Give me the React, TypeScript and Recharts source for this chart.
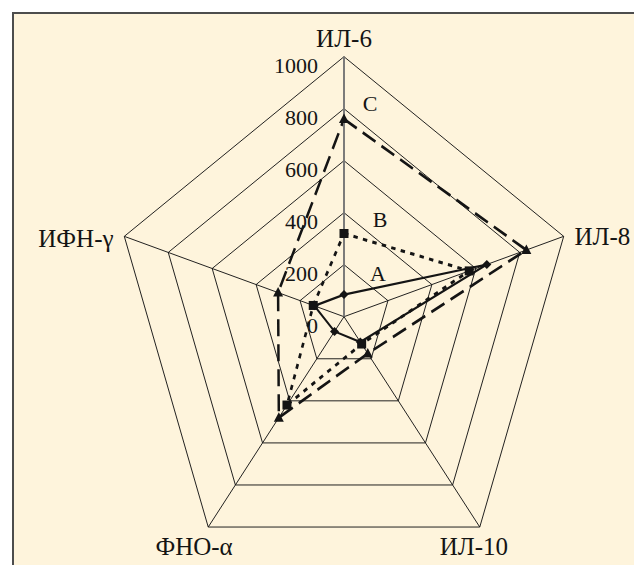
import React from "react";
import {
  RadarChart,
  Radar,
  PolarGrid,
  PolarAngleAxis,
  PolarRadiusAxis,
} from "recharts";

const axes = ["ИЛ-6", "ИЛ-8", "ИЛ-10", "ФНО-α", "ИФН-γ"];
const seriesA = [85, 650, 120, 70, 135];
const seriesB = [320, 570, 130, 420, 140];
const seriesC = [760, 830, 175, 480, 300];
const radiusTicks = [0, 200, 400, 600, 800, 1000];
const seriesNames = ["A", "B", "C"];

const data = axes.map((axis, i) => ({
  axis,
  A: seriesA[i],
  B: seriesB[i],
  C: seriesC[i],
}));

// the plot is an ellipse-ish pentagon: narrower than tall
const SX = 231 / 260;
const CX = 420;
const CY = 316.7;
const R = 260;
const FONT = "'Liberation Serif', 'Times New Roman', serif";
const INK = "#141414";

const AngleTick = (props: any) => {
  const { x, y, payload } = props;
  const rad = (payload.coordinate * Math.PI) / 180;
  const c = Math.cos(rad);
  const s = Math.sin(rad);
  let anchor = "middle";
  let dx = 0;
  let dy = 0;
  if (s > 0.9) {
    dy = -10;
  } else if (s < -0.5) {
    dx = -10;
    dy = 13;
  } else if (c > 0) {
    anchor = "start";
    dx = 4;
    dy = 3;
  } else {
    anchor = "end";
    dx = -4;
    dy = 5;
  }
  return (
    <g transform={`translate(${x},${y}) scale(${1 / SX},1)`}>
      <text
        x={dx}
        y={dy}
        textAnchor={anchor}
        dominantBaseline="central"
        fontFamily={FONT}
        fontSize={25}
        fill={INK}
      >
        {payload.value}
      </text>
    </g>
  );
};

const RadiusTick = (props: any) => {
  const { x, y, payload } = props;
  return (
    <g transform={`translate(${x},${y}) scale(${1 / SX},1)`}>
      <text
        x={-26}
        y={9}
        textAnchor="end"
        dominantBaseline="central"
        fontFamily={FONT}
        fontSize={22}
        fill={INK}
      >
        {payload.value}
      </text>
    </g>
  );
};

const diamond = (p: any) => {
  const w = 4.5 / SX;
  return (
    <path
      key={`a-${p.index}`}
      d={`M${p.cx},${p.cy - 4.5} L${p.cx + w},${p.cy} L${p.cx},${p.cy + 4.5} L${p.cx - w},${p.cy} Z`}
      fill={INK}
    />
  );
};

const square = (p: any) => {
  const w = 4.5 / SX;
  return (
    <rect
      key={`b-${p.index}`}
      x={p.cx - w}
      y={p.cy - 4.5}
      width={w * 2}
      height={9}
      fill={INK}
    />
  );
};

const triangle = (p: any) => {
  const w = 5 / SX;
  return (
    <path
      key={`c-${p.index}`}
      d={`M${p.cx},${p.cy - 5.5} L${p.cx + w},${p.cy + 4} L${p.cx - w},${p.cy + 4} Z`}
      fill={INK}
    />
  );
};

const namePos = [
  { left: 378, top: 274 },
  { left: 380, top: 220 },
  { left: 370, top: 104 },
];

export default function App() {
  return (
    <div
      style={{
        position: "absolute",
        left: 0,
        top: 0,
        width: 634,
        height: 565,
        overflow: "hidden",
        background: "#ffffff",
      }}
    >
      <div
        style={{
          position: "absolute",
          left: 12,
          top: 12,
          width: 640,
          height: 570,
          background: "#fef4dc",
          borderLeft: "2px solid #4d4d4d",
          borderTop: "2px solid #4d4d4d",
        }}
      />
      <div
        style={{
          position: "absolute",
          left: 344 - CX,
          top: 0,
          width: 840,
          height: 565,
          transform: `scaleX(${SX})`,
          transformOrigin: `${CX}px 0px`,
        }}
      >
        <RadarChart
          width={840}
          height={565}
          data={data}
          cx={CX}
          cy={CY}
          outerRadius={R}
          margin={{ top: 0, right: 0, bottom: 0, left: 0 }}
        >
          <PolarGrid stroke={INK} strokeWidth={1} />
          <PolarAngleAxis
            dataKey="axis"
            tick={AngleTick}
            tickLine={false}
            axisLine={false}
          />
          <PolarRadiusAxis
            angle={90}
            domain={[0, 1000]}
            ticks={radiusTicks as any}
            tickCount={6}
            axisLine={{ stroke: "#7a7a7a", strokeWidth: 2 }}
            tickLine={false}
            tick={RadiusTick}
          />
          <Radar
            dataKey="A"
            stroke={INK}
            strokeWidth={2.2}
            fill="none"
            dot={diamond}
            isAnimationActive={false}
          />
          <Radar
            dataKey="B"
            stroke={INK}
            strokeWidth={3}
            strokeDasharray="5 6"
            fill="none"
            dot={square}
            isAnimationActive={false}
          />
          <Radar
            dataKey="C"
            stroke={INK}
            strokeWidth={2.8}
            strokeDasharray="17 8"
            fill="none"
            dot={triangle}
            isAnimationActive={false}
          />
        </RadarChart>
      </div>
      {seriesNames.map((n, i) => (
        <div
          key={n}
          style={{
            position: "absolute",
            left: namePos[i].left - 15,
            top: namePos[i].top - 14,
            width: 30,
            height: 28,
            lineHeight: "28px",
            textAlign: "center",
            fontFamily: FONT,
            fontSize: 22,
            color: INK,
          }}
        >
          {n}
        </div>
      ))}
    </div>
  );
}
